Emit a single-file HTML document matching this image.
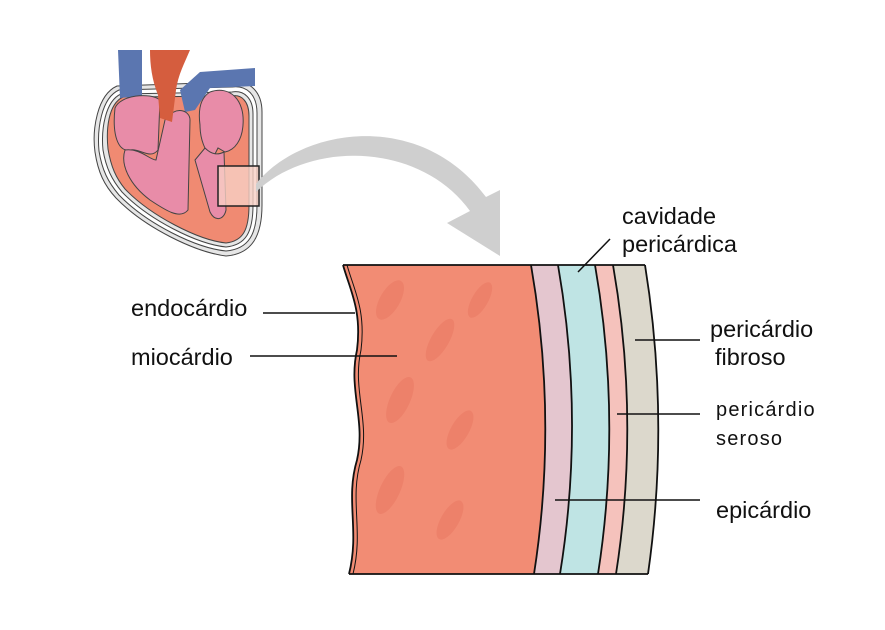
<!DOCTYPE html>
<html><head><meta charset="utf-8"><style>
html,body{margin:0;padding:0;background:#fff;}
svg{display:block;}
text{font-family:"Liberation Sans",Arial,sans-serif;fill:#111;}
</style></head><body>
<svg width="885" height="630" viewBox="0 0 885 630" xmlns="http://www.w3.org/2000/svg">
<rect width="885" height="630" fill="#fff"/>
<!-- heart -->
<g stroke="#444" stroke-width="1">
<path d="M117,86 C97,95 92,130 95,152 C98,172 104,185 116,198 C145,228 195,252 226,256 C252,254 262,236 262,205 L262,112 C262,92 250,80 232,82 Z" fill="#e6e6e6"/>
<path d="M119,90 C101,98 97,130 99,151 C102,170 108,182 119,195 C147,224 196,248 226,251 C249,249 257,234 257,205 L257,113 C257,95 247,85 232,87 Z" fill="#fff"/>
<path d="M121,94 C105,101 101,130 103,150 C106,168 112,180 122,192 C149,220 197,244 226,247 C246,245 253,232 253,205 L253,114 C253,98 244,90 232,92 Z" fill="#e6e6e6"/>
<path d="M123,97 C108,104 106,130 108,149 C111,167 116,178 125,189 C151,216 198,240 226,243 C243,241 249,230 249,205 L249,116 C249,101 241,94 232,96 Z" fill="#f08a72"/>
</g>
<path d="M118,50 L142,50 L142,96 L120,98 Z" fill="#5b76b0"/>
<path d="M180,90 L200,72 L255,68 L255,86 L210,88 L195,110 L185,112 Z" fill="#5b76b0"/>
<g stroke="#444" stroke-width="1" fill="#e88ca8">
<path d="M115,108 C120,95 150,92 160,100 L158,150 C150,160 140,148 130,150 C118,152 112,135 115,108 Z"/>
<path d="M125,150 C140,148 150,160 156,160 L165,120 C175,105 190,110 190,120 L188,210 C180,220 165,210 150,200 C130,185 120,165 125,150 Z"/>
<path d="M210,92 C230,85 245,100 243,125 C242,140 235,150 225,152 L218,148 L212,160 C205,150 200,140 200,125 C198,110 200,98 210,92 Z"/>
<path d="M205,148 C212,155 218,155 224,152 L226,210 C224,220 215,222 210,212 L195,160 Z"/>
</g>
<path d="M150,50 L190,50 C185,62 178,75 176,90 L172,122 L160,118 L158,95 C152,80 150,65 150,50 Z" fill="#d55d3e"/>
<rect x="218" y="166" width="41" height="40" fill="#f7cfc4" fill-opacity="0.8" stroke="#222" stroke-width="1.5"/>
<!-- arrow -->
<path d="M256,184 C300,128 420,108 486,197 L500,190 L500,256 L447,223 L470,211 C420,142 310,140 256,192 Z" fill="#cfcfcf"/>
<!-- layers -->
<path d="M343,265 L531,265 Q558,420 534,574 L349,574 C360,530 345,500 357,460 C366,420 348,390 357,350 C362,310 350,290 343,265 Z" fill="#f28c74"/>
<g fill="#ea7a64" opacity="0.6">
<ellipse cx="390" cy="300" rx="10" ry="22" transform="rotate(30 390 300)"/>
<ellipse cx="440" cy="340" rx="9" ry="24" transform="rotate(30 440 340)"/>
<ellipse cx="400" cy="400" rx="10" ry="25" transform="rotate(25 400 400)"/>
<ellipse cx="460" cy="430" rx="9" ry="22" transform="rotate(30 460 430)"/>
<ellipse cx="390" cy="490" rx="10" ry="26" transform="rotate(25 390 490)"/>
<ellipse cx="450" cy="520" rx="9" ry="22" transform="rotate(30 450 520)"/>
<ellipse cx="480" cy="300" rx="8" ry="20" transform="rotate(30 480 300)"/>
</g>
<path d="M531,265 L558,265 Q585,420 560,574 L534,574 Q558,420 531,265 Z" fill="#e4c6cf"/>
<path d="M558,265 L595,265 Q622,420 598,574 L560,574 Q585,420 558,265 Z" fill="#bfe4e4"/>
<path d="M595,265 L613,265 Q640,420 616,574 L598,574 Q622,420 595,265 Z" fill="#f5c2bc"/>
<path d="M613,265 L645,265 Q670,420 648,574 L616,574 Q640,420 613,265 Z" fill="#dcd8cc"/>
<g fill="none" stroke="#111" stroke-width="1.8">
<path d="M343,265 L645,265 M349,574 L648,574"/>
<path d="M531,265 Q558,420 534,574"/>
<path d="M558,265 Q585,420 560,574"/>
<path d="M595,265 Q622,420 598,574"/>
<path d="M613,265 Q640,420 616,574"/>
<path d="M645,265 Q670,420 648,574"/>
<path d="M343,265 C350,290 362,310 357,350 C348,390 366,420 357,460 C345,500 360,530 349,574"/>
<path d="M347,265 C354,290 366,310 361,350 C352,390 370,420 361,460 C349,500 364,530 353,574" stroke-width="1"/>
</g>
<!-- leader lines -->
<g stroke="#111" stroke-width="1.5">
<line x1="263" y1="313" x2="355" y2="313"/>
<line x1="250" y1="356" x2="397" y2="356"/>
<line x1="578" y1="272" x2="610" y2="239"/>
<line x1="635" y1="340" x2="700" y2="340"/>
<line x1="617" y1="414" x2="700" y2="414"/>
<line x1="555" y1="500" x2="700" y2="500"/>
</g>
<g font-size="23.5">
<text x="131" y="316">endocárdio</text>
<text x="131" y="365">miocárdio</text>
<text x="622" y="224">cavidade</text>
<text x="622" y="252">pericárdica</text>
<text x="710" y="337">pericárdio</text>
<text x="715" y="365">fibroso</text>
<text x="716" y="518">epicárdio</text>
</g>
<g font-size="20" letter-spacing="1.2">
<text x="716" y="416">pericárdio</text>
<text x="716" y="445">seroso</text>
</g>
</svg>
</body></html>
